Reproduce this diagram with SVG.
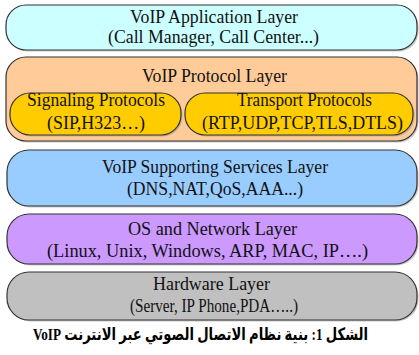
<svg xmlns="http://www.w3.org/2000/svg" width="419" height="355" viewBox="0 0 419 355">
<style>
.box{stroke:#333;stroke-width:1.2}
.sh{fill:#888;opacity:0.45}
.t{font-family:"Liberation Serif","Times New Roman",Times,serif;font-size:19.5px;fill:#111;text-anchor:middle}
.cap{font-family:"Liberation Serif","DejaVu Sans",serif;font-weight:bold;font-size:17px;fill:#000;text-anchor:middle}
</style>
<rect width="419" height="355" fill="#fff"/>
<g id="app">
<rect class="sh" x="7.5" y="6.5" width="411" height="45" rx="20"/>
<rect class="box" x="6" y="5" width="411" height="45" rx="20" fill="#ccffff"/>
<text class="t" x="214" y="23" textLength="168" lengthAdjust="spacingAndGlyphs">VoIP Application Layer</text>
<text class="t" x="213.5" y="43" textLength="211" lengthAdjust="spacingAndGlyphs">(Call Manager, Call Center...)</text>
</g>
<g id="protocol">
<rect class="sh" x="7.5" y="58.5" width="411" height="84" rx="20"/>
<rect class="box" x="6" y="57" width="411" height="84" rx="20" fill="#ffcc99"/>
<text class="t" x="214.5" y="82" textLength="145" lengthAdjust="spacingAndGlyphs">VoIP Protocol Layer</text>
</g>
<g id="signaling">
<rect class="sh" x="11.5" y="94.5" width="171" height="42" rx="20"/>
<rect class="box" x="10" y="93" width="171" height="42" rx="20" fill="#ffcc00"/>
<text class="t" x="96" y="106" textLength="138" lengthAdjust="spacingAndGlyphs">Signaling Protocols</text>
<text class="t" x="96" y="129" textLength="98" lengthAdjust="spacingAndGlyphs">(SIP,H323…)</text>
</g>
<g id="transport">
<rect class="sh" x="186.5" y="94.5" width="228" height="42" rx="20"/>
<rect class="box" x="185" y="93" width="228" height="42" rx="20" fill="#ffcc00"/>
<text class="t" x="304.5" y="106" textLength="135" lengthAdjust="spacingAndGlyphs">Transport Protocols</text>
<text class="t" x="302.5" y="129" textLength="201" lengthAdjust="spacingAndGlyphs">(RTP,UDP,TCP,TLS,DTLS)</text>
</g>
<g id="support">
<rect class="sh" x="8.5" y="151.5" width="410" height="56" rx="22"/>
<rect class="box" x="7" y="150" width="410" height="56" rx="22" fill="#99ccff"/>
<text class="t" x="215" y="173" textLength="226" lengthAdjust="spacingAndGlyphs">VoIP Supporting Services Layer</text>
<text class="t" x="215" y="195" textLength="176" lengthAdjust="spacingAndGlyphs">(DNS,NAT,QoS,AAA...)</text>
</g>
<g id="os">
<rect class="sh" x="8.5" y="215.5" width="410" height="50" rx="22"/>
<rect class="box" x="7" y="214" width="410" height="50" rx="22" fill="#cc99ff"/>
<text class="t" x="212.5" y="235" textLength="169" lengthAdjust="spacingAndGlyphs">OS and Network Layer</text>
<text class="t" x="207.5" y="257" textLength="321" lengthAdjust="spacingAndGlyphs">(Linux, Unix, Windows, ARP, MAC, IP….)</text>
</g>
<g id="hardware">
<rect class="sh" x="8.5" y="273.5" width="410" height="48" rx="22"/>
<rect class="box" x="7" y="272" width="410" height="48" rx="22" fill="#c0c0c0"/>
<text class="t" x="211.5" y="290" textLength="117" lengthAdjust="spacingAndGlyphs">Hardware Layer</text>
<text class="t" x="214" y="312" textLength="168" lengthAdjust="spacingAndGlyphs">(Server, IP Phone,PDA…..)</text>
</g>
<g id="connectors"></g>
<text class="cap" x="200.5" y="340" direction="rtl" textLength="335" lengthAdjust="spacingAndGlyphs">الشكل 1: بنية نظام الاتصال الصوتي عبر الانترنت VoIP</text>
</svg>
